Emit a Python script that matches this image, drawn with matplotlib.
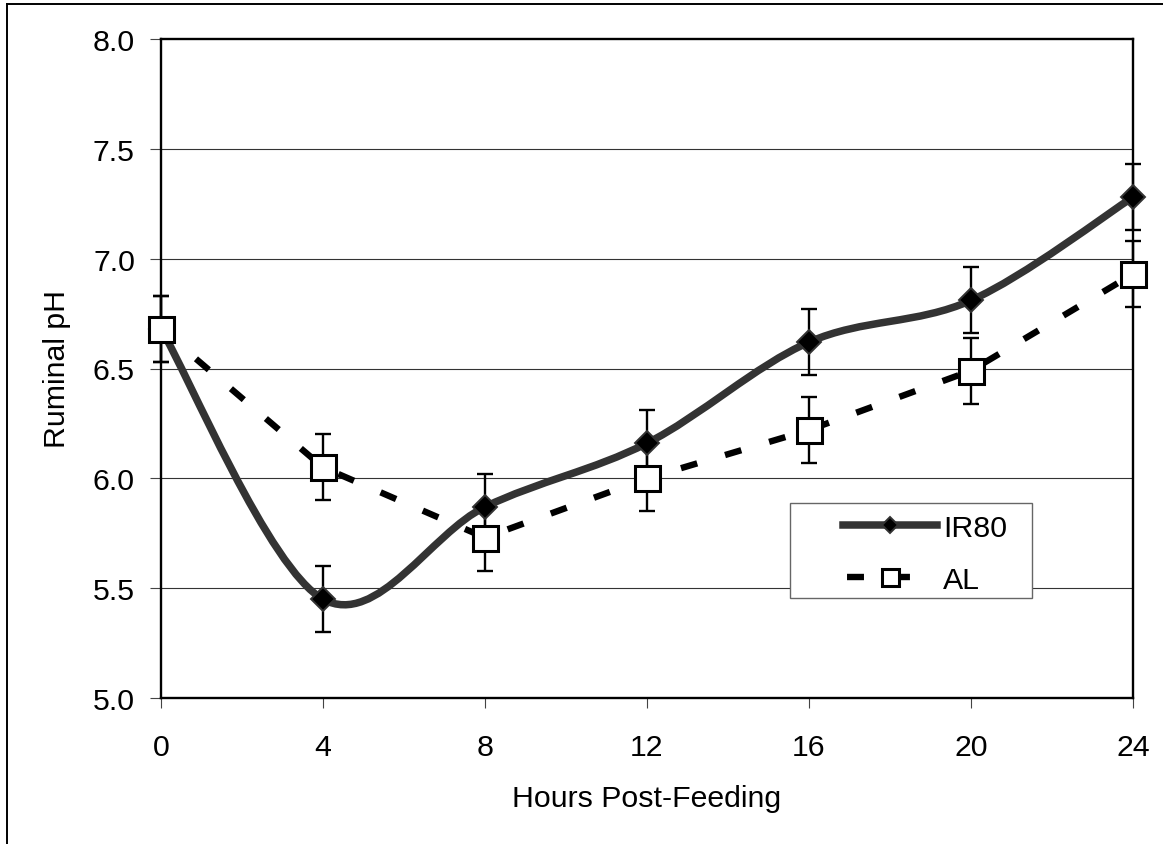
import matplotlib
matplotlib.use("Agg")
import matplotlib.pyplot as plt
from matplotlib.lines import Line2D
from matplotlib.path import Path
from matplotlib.patches import PathPatch, Rectangle
import numpy as np

plt.rcParams["font.family"] = ["Liberation Sans", "DejaVu Sans"]
plt.rcParams["lines.scale_dashes"] = False

HOURS = [0, 4, 8, 12, 16, 20, 24]
IR80 = [6.68, 5.45, 5.87, 6.16, 6.62, 6.81, 7.28]
IR80_SE = [0.15, 0.15, 0.15, 0.15, 0.15, 0.15, 0.15]
AL = [6.68, 6.05, 5.73, 6.00, 6.22, 6.49, 6.93]
AL_SE = [0.15, 0.15, 0.15, 0.15, 0.15, 0.15, 0.15]

X_TICKS = [0, 4, 8, 12, 16, 20, 24]
Y_TICKS = [5.0, 5.5, 6.0, 6.5, 7.0, 7.5, 8.0]

IR_COLOR = "#333333"
FS = 21.8
W, H = 1163, 845
AL_DASH = (12.2, 20.9)


def smooth_path(xs, ys):
    """Excel-like smoothed line: cubic Bezier segments through the points."""
    pts = np.column_stack([xs, ys]).astype(float)
    n = len(pts)
    verts = [pts[0]]
    codes = [Path.MOVETO]
    for i in range(n - 1):
        p0 = pts[max(i - 1, 0)]
        p1 = pts[i]
        p2 = pts[i + 1]
        p3 = pts[min(i + 2, n - 1)]
        verts += [p1 + (p2 - p0) / 6, p2 - (p3 - p1) / 6, p2]
        codes += [Path.CURVE4] * 3
    return Path(verts, codes)


fig = plt.figure(figsize=(W / 100, H / 100), dpi=100)
ax = fig.add_axes([161 / W, 1 - 699 / H, 972 / W, 659 / H])

# grid
for y in Y_TICKS[1:-1]:
    ax.axhline(y, color="#333333", lw=0.8, zorder=1)

# error bars
for vals, se in ((IR80, IR80_SE), (AL, AL_SE)):
    eb = ax.errorbar(HOURS, vals, yerr=se, fmt="none", ecolor="black",
                     elinewidth=1.7, capsize=5.8, capthick=1.7, zorder=2)
    for art in eb.get_children():
        art.set_clip_on(False)

# IR80 smooth line + markers
ax.add_patch(PathPatch(smooth_path(HOURS, IR80), fill=False,
                       edgecolor=IR_COLOR, lw=5.4, capstyle="butt",
                       zorder=3, clip_on=False))
ax.plot(HOURS, IR80, ls="none", marker="D", ms=12.7, mfc="black",
        mec=IR_COLOR, mew=1.4, zorder=4, clip_on=False)

# AL dashed line + markers
ax.plot(HOURS, AL, color="black", lw=4.6, dashes=AL_DASH,
        dash_capstyle="butt", zorder=3, clip_on=False)
ax.plot(HOURS, AL, ls="none", marker="s", ms=18, mfc="white",
        mec="black", mew=2.2, zorder=5, clip_on=False)

ax.set_xlim(0, 24)
ax.set_ylim(5, 8)
ax.set_xticks(X_TICKS)
ax.set_yticks(Y_TICKS)
ax.set_yticklabels([f"{v:.1f}" for v in Y_TICKS])
ax.tick_params(axis="y", direction="out", length=8, width=0.8,
               color="#444444", labelsize=FS, pad=10.8)
ax.tick_params(axis="x", direction="out", length=7.5, width=0.8,
               color="#444444", labelsize=FS, pad=18)
for spine in ax.spines.values():
    spine.set_linewidth(1.7)
    spine.set_color("black")
    spine.set_zorder(2.5)

ax.set_ylabel("Ruminal pH", fontsize=FS)
ax.yaxis.label.set_va("center")
ax.yaxis.set_label_coords((57 - 161) / 972, 0.5)
ax.set_xlabel("Hours Post-Feeding", fontsize=FS)
ax.xaxis.label.set_va("center")
ax.xaxis.set_label_coords(0.5, (699 - 799) / 659)

# legend: frame drawn separately, entries placed inside it
fig.add_artist(Rectangle((790 / W, 1 - 599 / H), 242 / W, 95 / H,
                         transform=fig.transFigure, facecolor="white",
                         edgecolor="#666666", lw=1.0, zorder=5))
handles = [
    Line2D([], [], color=IR_COLOR, lw=5.4, marker="D", ms=12.7,
           mfc="black", mec=IR_COLOR, mew=1.4),
    Line2D([], [], color="black", lw=4.6, ls=(30.2, AL_DASH),
           dash_capstyle="butt", marker="s", ms=18, mfc="white",
           mec="black", mew=2.2),
]
leg = fig.legend(handles, ["IR80", "AL"], loc="upper left",
                 bbox_to_anchor=(843 / W, 1 - 515 / H),
                 bbox_transform=fig.transFigure,
                 borderaxespad=0, borderpad=0, fontsize=FS,
                 markerscale=0.68, handlelength=3.1, handletextpad=0.2,
                 labelspacing=0.78, numpoints=1, frameon=False)
leg.set_zorder(6)

# outer frame (left and top edges visible)
fig.add_artist(Line2D([7.3 / W, 7.3 / W], [0, 1 - 4.7 / H],
                      transform=fig.transFigure, color="black", lw=1.4))
fig.add_artist(Line2D([7.3 / W, 1], [1 - 4.7 / H, 1 - 4.7 / H],
                      transform=fig.transFigure, color="black", lw=1.4))

fig.savefig("out.png", dpi=100)
